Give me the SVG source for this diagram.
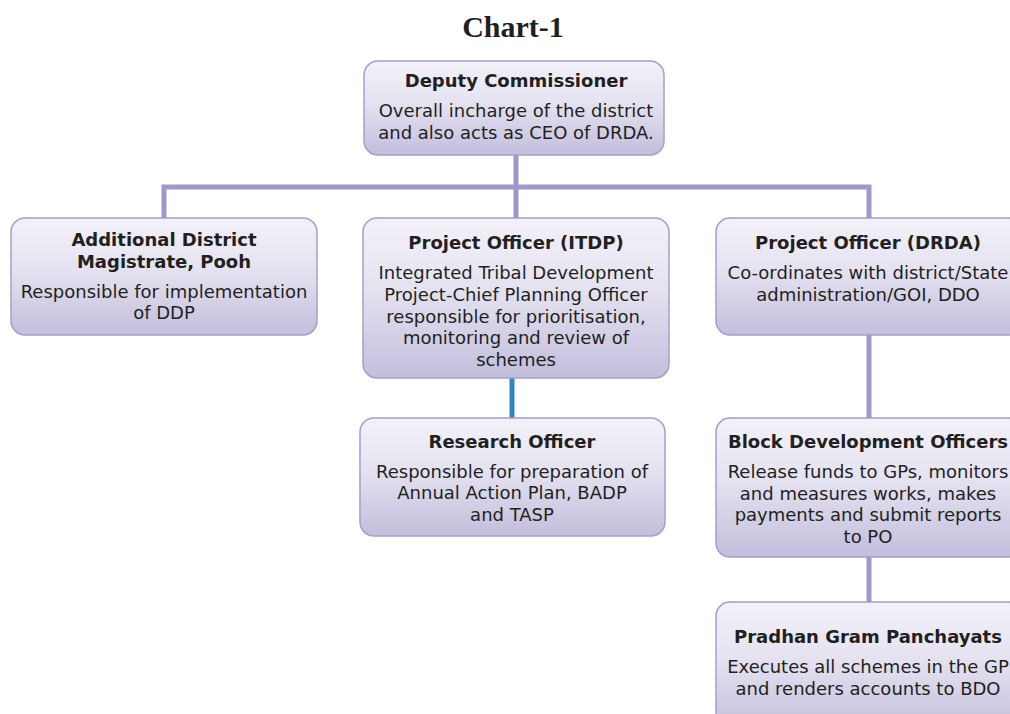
<svg xmlns="http://www.w3.org/2000/svg" width="1010" height="714" viewBox="0 0 1010 714">
<defs>
<linearGradient id="g" x1="0" y1="0" x2="0" y2="1">
<stop offset="0" stop-color="#f3f2f9"/>
<stop offset="0.45" stop-color="#e4e2f0"/>
<stop offset="1" stop-color="#c2bedc"/>
</linearGradient>
<style>
.box{fill:url(#g);stroke:#a59fcf;stroke-width:1.5}
.t{font-family:"DejaVu Sans",Verdana,sans-serif;font-size:18px;fill:#231f20;text-anchor:middle}
.b{font-weight:bold}
.c{stroke:#9f98cb;stroke-width:5;fill:none}
.cb{stroke:#2f86c0;stroke-width:5;fill:none}
</style>
</defs>
<rect width="1010" height="714" fill="#ffffff"/>
<text x="513" y="37" font-family="'Liberation Serif',serif" font-weight="bold" font-size="30" text-anchor="middle" fill="#231f20">Chart-1</text>
<g id="connectors">
<path class="c" d="M516 155V187M164 218V187H869V218M516 187V218"/>
<path class="cb" d="M512 378V418"/>
<path class="c" d="M869 335V418M869 557V602"/>
</g>
<g id="deputy-commissioner">
<rect class="box" x="364" y="61" width="300" height="94" rx="14"/>
<text class="t b" x="516" y="87">Deputy Commissioner</text>
<text class="t" x="516" y="117">Overall incharge of the district</text>
<text class="t" x="516" y="139">and also acts as CEO of DRDA.</text>
</g>
<g id="adm">
<rect class="box" x="11" y="218" width="306" height="117" rx="14"/>
<text class="t b" x="164" y="246">Additional District</text>
<text class="t b" x="164" y="268">Magistrate, Pooh</text>
<text class="t" x="164" y="298">Responsible for implementation</text>
<text class="t" x="164" y="319">of DDP</text>
</g>
<g id="po-itdp">
<rect class="box" x="363" y="218" width="306" height="160" rx="14"/>
<text class="t b" x="516" y="249">Project Officer (ITDP)</text>
<text class="t" x="516" y="279">Integrated Tribal Development</text>
<text class="t" x="516" y="301">Project-Chief Planning Officer</text>
<text class="t" x="516" y="323">responsible for prioritisation,</text>
<text class="t" x="516" y="344">monitoring and review of</text>
<text class="t" x="516" y="366">schemes</text>
</g>
<g id="po-drda">
<rect class="box" x="716" y="218" width="306" height="117" rx="14"/>
<text class="t b" x="868" y="249">Project Officer (DRDA)</text>
<text class="t" x="868" y="279">Co-ordinates with district/State</text>
<text class="t" x="868" y="301">administration/GOI, DDO</text>
</g>
<g id="research-officer">
<rect class="box" x="360" y="418" width="305" height="118" rx="14"/>
<text class="t b" x="512" y="448">Research Officer</text>
<text class="t" x="512" y="478">Responsible for preparation of</text>
<text class="t" x="512" y="499">Annual Action Plan, BADP</text>
<text class="t" x="512" y="521">and TASP</text>
</g>
<g id="bdo">
<rect class="box" x="716" y="418" width="306" height="139" rx="14"/>
<text class="t b" x="868" y="448">Block Development Officers</text>
<text class="t" x="868" y="478">Release funds to GPs, monitors</text>
<text class="t" x="868" y="500">and measures works, makes</text>
<text class="t" x="868" y="521">payments and submit reports</text>
<text class="t" x="868" y="543">to PO</text>
</g>
<g id="pradhan">
<rect class="box" x="716" y="602" width="306" height="130" rx="14"/>
<text class="t b" x="868" y="643">Pradhan Gram Panchayats</text>
<text class="t" x="868" y="673">Executes all schemes in the GP</text>
<text class="t" x="868" y="695">and renders accounts to BDO</text>
</g>
</svg>
